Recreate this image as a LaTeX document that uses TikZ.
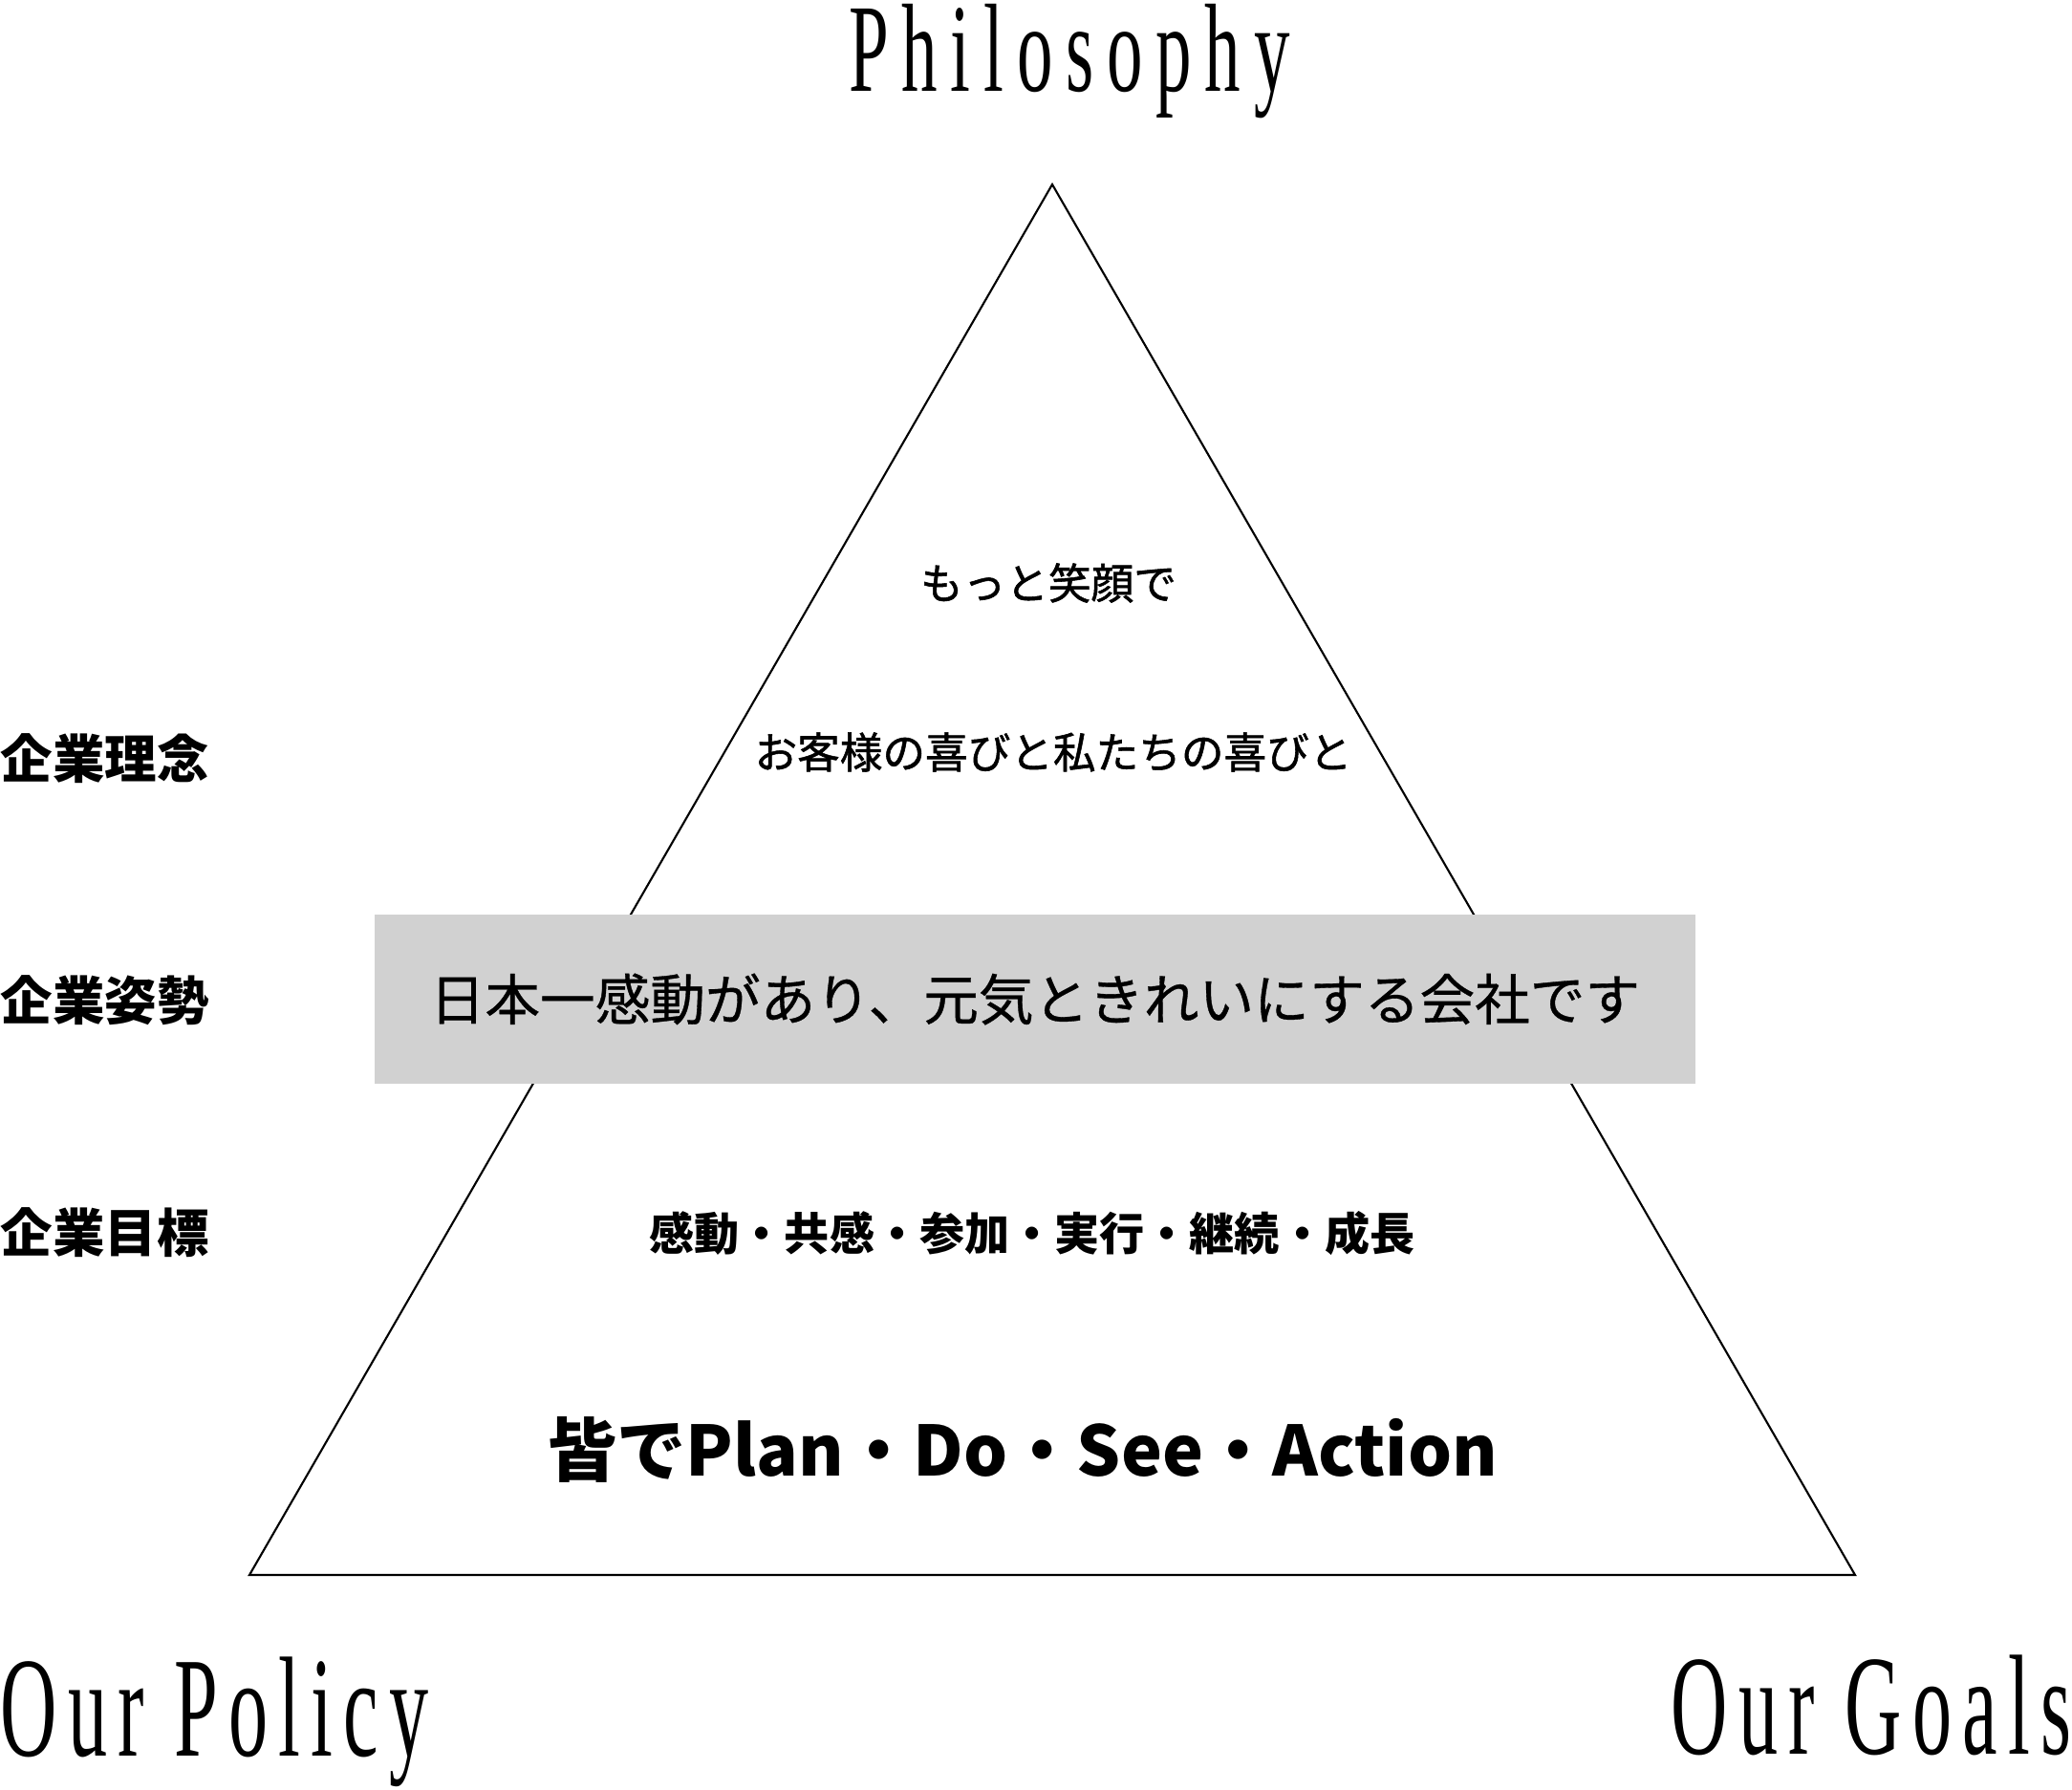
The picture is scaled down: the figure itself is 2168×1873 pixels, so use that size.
\documentclass[tikz,border=0pt]{standalone}
\usepackage{fontspec}
\setmainfont{Liberation Serif}
\newfontfamily\capfont[FakeStretch=0.55,LetterSpace=7.5]{Liberation Serif}
\newfontfamily\peakfont[FakeStretch=0.57,LetterSpace=10.5]{Liberation Serif}
\newfontfamily\jpfont{Noto Sans CJK JP}
\newfontfamily\jpmedium[FakeBold=1.2]{Noto Sans CJK JP}
\newfontfamily\jpband[FakeBold=0.6]{Noto Sans CJK JP}
\definecolor{bandgray}{HTML}{D1D1D1}
\begin{document}
\begin{tikzpicture}[x=0.1mm,y=-0.1mm,
  tri/.style={line width=0.6pt, black},
  corner/.style={inner sep=0pt, text height=8.4mm, font=\capfont\fontsize{42.5}{43}\selectfont},
  sidelabel/.style={inner sep=0pt, anchor=west, font=\jpfont\bfseries\fontsize{15.5}{16}\selectfont},
  phrase/.style={inner sep=0pt, font=\jpmedium\fontsize{12.7}{13}\selectfont},
  band/.style={fill=bandgray, inner sep=0pt, minimum width=138.2mm, minimum height=17.7mm,
    font=\jpband\fontsize{16.4}{17}\selectfont}]
\useasboundingbox (0,0) rectangle (2168,1873);
\coordinate (top) at (1101,193);
\coordinate (left) at (261,1648);
\coordinate (right) at (1941,1648);
\draw [tri] (top) -- (right) -- (left) -- cycle;
\node [band] (motto) at (1083,1045.5) {日本一感動があり、元気ときれいにする会社です};
\node [phrase] (smile) at (1097,610) {もっと笑顔で};
\node [phrase] (joy) at (1102,787) {お客様の喜びと私たちの喜びと};
\node [phrase, font=\jpfont\bfseries\fontsize{13.4}{14}\selectfont] (goals) at (1080,1291) {感動・共感・参加・実行・継続・成長};
\node [phrase, font=\jpfont\bfseries\fontsize{20.6}{21}\selectfont] (pdsa) at (1070,1517) {皆でPlan・Do・See・Action};
\node [sidelabel] (rinen) at (0,794) {企業理念};
\node [sidelabel] (shisei) at (0,1047) {企業姿勢};
\node [sidelabel] (mokuhyo) at (0,1290) {企業目標};
\node [corner, anchor=base, font=\peakfont\fontsize{37.4}{38}\selectfont] (philosophy) at (1119,96) {Philosophy};
\node [corner, anchor=base west] (policy) at (0,1837) {Our Policy};
\node [corner, anchor=base east] (ourgoals) at (2168,1835) {Our Goals};
\end{tikzpicture}
\end{document}
